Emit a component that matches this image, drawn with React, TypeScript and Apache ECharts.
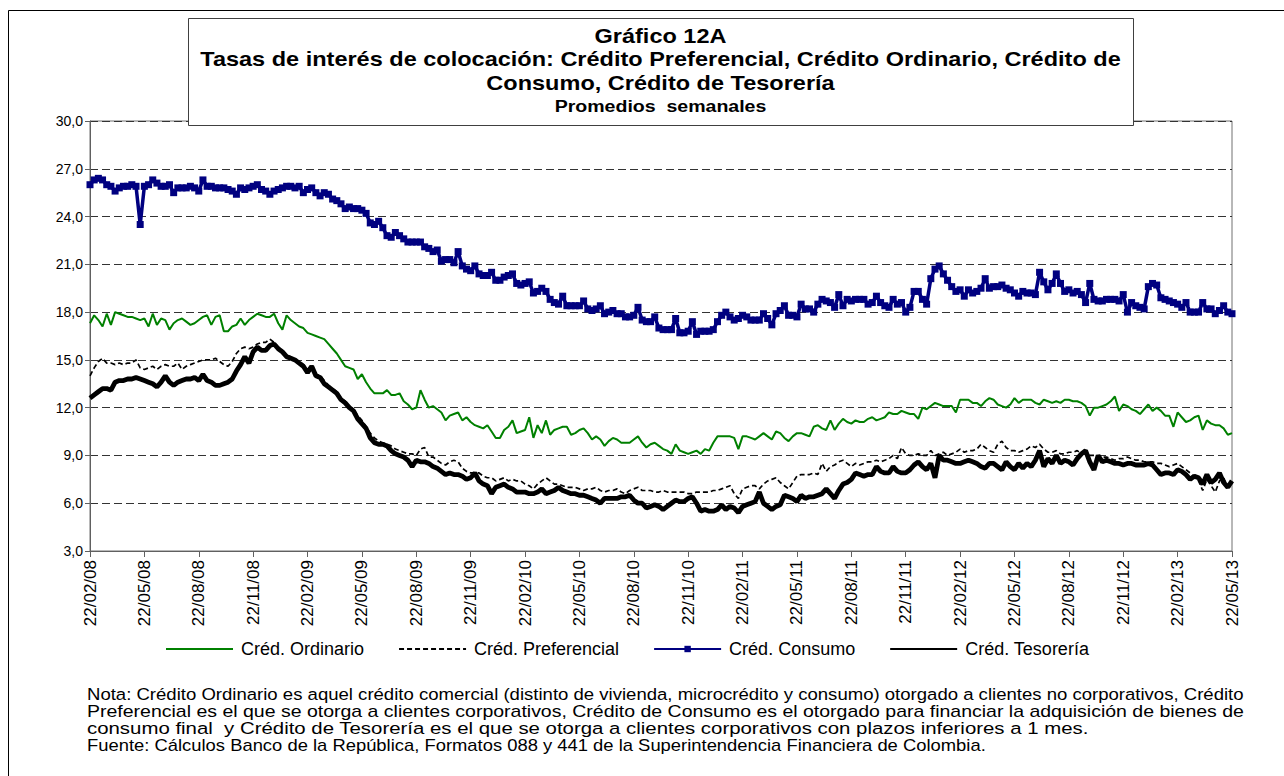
import React, { useEffect, useRef } from "react";
import * as echarts from "echarts";

const FONT = "'Liberation Sans', Arial, Helvetica, sans-serif";

// Tick labels every 13 weeks (quarterly)
const tickLabels = [
  "22/02/08", "22/05/08", "22/08/08", "22/11/08", "22/02/09", "22/05/09",
  "22/08/09", "22/11/09", "22/02/10", "22/05/10", "22/08/10", "22/11/10",
  "22/02/11", "22/05/11", "22/08/11", "22/11/11", "22/02/12", "22/05/12",
  "22/08/12", "22/11/12", "22/02/13", "22/05/13",
];
const WEEKS_PER_TICK = 13;

const seriesNames = ["Créd. Ordinario", "Créd. Preferencial", "Créd. Consumo", "Créd. Tesorería"];

const ordinario = [
  17.3, 17.8, 17.5, 17.1, 17.9, 17.2, 18.0, 17.9, 17.8, 17.7,
  17.7, 17.6, 17.5, 17.6, 17.1, 17.9, 17.2, 17.6, 17.5, 16.9,
  17.3, 17.5, 17.6, 17.4, 17.2, 17.3, 17.5, 17.7, 17.8, 17.2,
  17.7, 17.8, 16.8, 16.8, 17.1, 17.2, 17.6, 17.2, 17.5, 17.7,
  17.9, 17.8, 17.7, 17.7, 17.9, 17.3, 16.9, 17.8, 17.5, 17.3,
  17.1, 17.0, 16.7, 16.6, 16.5, 16.4, 16.3, 16.0, 15.7, 15.4,
  15.0, 14.6, 14.5, 14.4, 13.8, 14.1, 13.6, 13.2, 12.9, 12.9,
  12.9, 13.1, 12.8, 12.8, 12.9, 12.4, 12.2, 11.9, 12.0, 13.1,
  12.5, 12.0, 12.1, 11.9, 11.7, 11.2, 11.5, 11.6, 11.7, 11.2,
  11.4, 11.1, 10.9, 10.8, 10.7, 10.9, 10.5, 10.1, 10.1, 10.6,
  10.8, 11.2, 10.4, 10.5, 10.6, 11.4, 10.1, 10.9, 10.4, 11.2,
  10.3, 10.6, 10.7, 10.8, 10.8, 10.3, 10.4, 10.6, 10.7, 10.4,
  10.0, 10.2, 10.0, 9.6, 9.9, 10.1, 10.0, 9.8, 9.8, 9.8,
  10.0, 10.2, 9.8, 9.5, 9.7, 9.8, 9.6, 9.4, 9.3, 9.1,
  9.7, 9.3, 9.2, 9.1, 9.2, 9.3, 9.1, 9.4, 9.3, 9.8,
  10.2, 10.2, 10.2, 10.2, 10.1, 9.4, 10.2, 10.2, 10.1, 10.0,
  10.2, 10.4, 10.2, 10.0, 10.5, 10.4, 10.1, 9.9, 10.2, 10.4,
  10.4, 10.3, 10.2, 10.8, 10.9, 10.7, 10.6, 11.2, 10.6, 11.0,
  11.3, 11.1, 11.0, 11.2, 11.1, 11.1, 11.3, 11.4, 11.2, 11.3,
  11.4, 11.7, 11.6, 11.6, 11.8, 11.7, 11.6, 11.6, 11.3, 12.0,
  11.9, 12.1, 12.3, 12.2, 12.1, 12.1, 12.1, 11.7, 12.5, 12.5,
  12.5, 12.3, 12.3, 12.1, 12.4, 12.6, 12.5, 12.2, 12.1, 12.0,
  12.2, 12.6, 12.3, 12.5, 12.5, 12.5, 12.3, 12.2, 12.5, 12.4,
  12.3, 12.4, 12.3, 12.5, 12.5, 12.4, 12.4, 12.3, 12.1, 11.5,
  12.0, 12.0, 12.1, 12.2, 12.4, 12.7, 11.8, 12.2, 12.1, 11.9,
  11.8, 11.6, 11.9, 12.2, 11.8, 12.0, 11.8, 11.5, 11.5, 10.8,
  11.7, 11.4, 11.1, 11.2, 11.4, 11.5, 10.6, 11.2, 11.0, 10.9,
  10.9, 10.7, 10.3, 10.4,
];

const preferencial = [
  14.0, 14.5, 14.9, 15.1, 14.8, 14.8, 14.7, 14.8, 14.7, 14.8,
  14.8, 15.0, 14.5, 14.4, 14.5, 14.6, 14.4, 14.6, 14.7, 14.6,
  14.6, 14.8, 14.4, 14.6, 14.7, 14.8, 14.9, 15.0, 15.0, 15.0,
  15.1, 14.9, 14.7, 14.6, 14.9, 15.4, 15.7, 15.8, 15.7, 15.8,
  16.0, 16.1, 16.1, 16.3, 16.1, 15.8, 15.6, 15.3, 15.2, 15.0,
  14.9, 14.7, 14.4, 14.7, 14.1, 14.0, 13.7, 13.4, 13.2, 13.0,
  12.6, 12.4, 12.1, 11.9, 11.5, 11.2, 10.8, 10.4, 10.1, 9.9,
  9.8, 9.7, 9.6, 9.4, 9.3, 9.2, 9.1, 9.1, 9.0, 9.4,
  9.5, 8.9, 8.9, 8.7, 8.5, 8.4, 8.6, 8.7, 8.6, 8.2,
  8.0, 7.9, 7.9, 7.9, 7.7, 7.6, 7.6, 7.4, 7.5, 7.6,
  7.4, 7.5, 7.4, 7.4, 7.2, 7.1, 6.9, 7.2, 7.4, 7.6,
  7.4, 7.2, 7.2, 7.1, 7.0, 7.0, 7.0, 6.9, 6.8, 6.9,
  6.9, 7.0, 6.8, 6.7, 6.8, 6.8, 6.9, 6.7, 6.6, 6.8,
  6.9, 7.0, 6.8, 6.8, 6.8, 6.7, 6.7, 6.8, 6.7, 6.7,
  6.7, 6.7, 6.7, 6.6, 6.6, 6.7, 6.7, 6.7, 6.7, 6.8,
  6.8, 6.9, 7.0, 7.1, 6.6, 6.3, 6.9, 7.0, 7.1, 7.1,
  6.9, 7.2, 7.4, 7.5, 7.6, 7.3, 7.1, 6.9, 7.3, 7.7,
  7.8, 7.8, 7.8, 7.9, 7.8, 8.5, 8.0, 8.3, 8.4, 8.6,
  8.7, 8.5, 8.3, 8.5, 8.4, 8.5, 8.6, 8.6, 8.7, 8.6,
  8.7, 8.8, 9.0, 8.8, 9.5, 9.1, 9.0, 9.0, 9.1, 9.0,
  9.0, 9.3, 9.0, 9.1, 9.2, 9.0, 9.1, 9.2, 9.4, 9.2,
  9.3, 9.3, 9.4, 9.7, 9.5, 9.3, 9.2, 9.7, 9.9, 9.5,
  9.3, 9.3, 9.2, 9.3, 9.4, 9.6, 9.5, 9.7, 9.4, 9.2,
  9.2, 9.3, 9.1, 9.1, 9.2, 9.2, 9.3, 9.1, 9.1, 9.0,
  9.0, 8.8, 8.9, 8.9, 8.8, 8.7, 8.8, 8.8, 8.9, 8.8,
  8.7, 8.7, 8.6, 8.6, 8.6, 8.5, 8.5, 8.4, 8.3, 8.4,
  8.5, 8.3, 8.1, 7.9, 7.6, 7.4, 6.8, 7.5, 7.1, 6.7,
  7.4, 7.6, 7.0, 7.1,
];

const consumo = [
  26.0, 26.3, 26.4, 26.3, 26.0, 25.9, 25.6, 25.8, 25.9, 25.9,
  26.0, 25.9, 23.5, 25.9, 26.0, 26.3, 26.1, 25.9, 25.9, 26.0,
  25.5, 25.8, 25.8, 25.8, 25.9, 25.8, 25.6, 26.3, 25.9, 25.9,
  25.8, 25.8, 25.8, 25.7, 25.6, 25.4, 25.8, 25.7, 25.8, 25.9,
  26.0, 25.7, 25.6, 25.4, 25.6, 25.7, 25.8, 25.9, 25.9, 25.8,
  25.9, 25.5, 25.7, 25.8, 25.5, 25.3, 25.5, 25.4, 25.1, 25.0,
  24.8, 24.5, 24.6, 24.5, 24.5, 24.4, 24.2, 23.6, 23.5, 23.7,
  23.3, 22.8, 22.7, 23.0, 22.8, 22.6, 22.4, 22.4, 22.4, 22.4,
  22.1, 22.0, 21.8, 21.9, 21.2, 21.3, 21.3, 21.1, 21.8, 20.9,
  20.7, 20.6, 20.9, 20.4, 20.3, 20.3, 20.5, 20.0, 20.0, 20.2,
  20.3, 20.4, 19.8, 19.7, 19.8, 19.9, 19.2, 19.3, 19.5, 19.3,
  18.8, 18.6, 18.5, 19.0, 18.4, 18.4, 18.4, 18.4, 18.7, 18.2,
  18.1, 18.2, 18.4, 17.9, 18.0, 18.1, 17.9, 17.9, 17.7, 17.7,
  17.8, 18.3, 17.5, 17.4, 17.4, 17.7, 17.0, 16.9, 16.9, 16.9,
  17.6, 16.7, 16.7, 16.8, 17.4, 16.6, 16.8, 16.8, 16.8, 16.9,
  17.4, 17.8, 18.0, 17.7, 17.5, 17.6, 17.8, 17.7, 17.5, 17.5,
  17.5, 17.9, 17.6, 17.2, 17.9, 18.1, 18.4, 17.8, 17.8, 17.7,
  18.5, 18.2, 18.2, 18.0, 18.5, 18.8, 18.7, 18.6, 18.3, 19.1,
  18.4, 18.8, 18.7, 18.8, 18.8, 18.8, 18.5, 18.6, 19.0, 18.6,
  18.4, 18.3, 18.8, 18.5, 18.6, 18.0, 18.3, 19.3, 19.3, 18.8,
  18.5, 20.1, 20.7, 20.9, 20.4, 20.0, 19.6, 19.3, 19.4, 19.0,
  19.4, 19.2, 19.3, 19.5, 20.1, 19.5, 19.6, 19.6, 19.7, 19.5,
  19.4, 19.2, 19.0, 19.3, 19.2, 19.2, 19.1, 20.5, 19.9, 19.4,
  19.8, 20.4, 19.8, 19.3, 19.4, 19.2, 19.3, 19.1, 18.6, 19.8,
  18.8, 18.7, 18.7, 18.8, 18.8, 18.8, 18.7, 19.1, 18.0, 18.6,
  18.4, 18.3, 18.2, 19.6, 19.8, 19.7, 18.9, 18.8, 18.7, 18.6,
  18.5, 18.3, 18.6, 18.0, 18.0, 18.0, 18.6, 18.2, 18.2, 17.9,
  18.1, 18.4, 18.0, 17.9,
];

const tesoreria = [
  12.6, 12.8, 13.0, 13.2, 13.2, 13.1, 13.6, 13.7, 13.7, 13.8,
  13.8, 13.9, 13.8, 13.7, 13.6, 13.5, 13.3, 13.6, 14.0, 13.6,
  13.4, 13.6, 13.7, 13.8, 13.8, 13.9, 13.7, 14.1, 13.7, 13.6,
  13.4, 13.4, 13.5, 13.6, 13.8, 14.3, 14.7, 15.2, 14.8, 15.5,
  15.8, 15.6, 15.6, 15.9, 16.0, 15.7, 15.5, 15.2, 15.1, 15.0,
  14.8, 14.6, 14.2, 14.6, 14.0, 13.9, 13.5, 13.3, 13.1, 12.9,
  12.5, 12.3, 12.0, 11.8, 11.3, 11.0, 10.7, 10.1, 9.8, 9.7,
  9.7, 9.6, 9.3, 9.1, 9.0, 8.9, 8.7, 8.3, 8.7, 8.6,
  8.6, 8.5, 8.3, 8.2, 8.0, 7.8, 7.9, 7.8, 7.8, 7.7,
  7.5, 7.6, 7.9, 7.4, 7.2, 7.1, 6.6, 7.0, 7.1, 7.2,
  7.0, 6.9, 6.7, 6.7, 6.7, 6.6, 6.6, 6.7, 6.9, 6.6,
  6.7, 6.8, 7.0, 6.8, 6.7, 6.6, 6.6, 6.5, 6.5, 6.4,
  6.3, 6.2, 6.0, 6.3, 6.3, 6.3, 6.3, 6.4, 6.4, 6.5,
  6.2, 6.0, 6.0, 5.7, 5.8, 5.9, 5.8, 5.6, 5.8, 6.0,
  6.2, 6.1, 6.1, 6.3, 6.4, 6.0, 5.5, 5.6, 5.5, 5.5,
  5.6, 5.9, 5.6, 5.8, 5.7, 5.4, 5.8, 5.9, 6.0, 6.1,
  6.7, 6.0, 5.8, 5.6, 5.8, 5.9, 6.5, 6.4, 6.3, 6.1,
  6.5, 6.3, 6.4, 6.4, 6.5, 6.6, 6.9, 6.6, 6.3, 6.8,
  7.2, 7.3, 7.5, 7.9, 7.8, 7.7, 7.8, 7.8, 8.3, 8.0,
  7.9, 7.9, 8.3, 8.0, 7.9, 7.9, 8.1, 8.4, 8.6, 8.3,
  8.1, 8.5, 7.6, 9.0, 8.7, 8.7, 8.6, 8.5, 8.5, 8.6,
  8.7, 8.6, 8.5, 8.3, 8.2, 8.5, 8.5, 8.3, 8.1, 8.6,
  8.3, 8.1, 8.5, 8.2, 8.5, 8.3, 8.7, 9.3, 8.3, 8.8,
  8.5, 9.0, 8.5, 8.7, 8.6, 8.4, 8.8, 9.1, 9.3, 8.6,
  8.1, 9.0, 8.6, 8.7, 8.6, 8.5, 8.5, 8.4, 8.5, 8.5,
  8.4, 8.4, 8.4, 8.5, 8.4, 8.1, 7.8, 7.9, 7.9, 7.8,
  8.1, 8.0, 7.8, 7.5, 7.7, 7.6, 7.2, 7.8, 7.3, 7.5,
  7.9, 7.3, 7.0, 7.4,
];

const titleLines = [
  "Gráfico 12A",
  "Tasas de interés de colocación: Crédito Preferencial, Crédito Ordinario, Crédito de",
  "Consumo, Crédito de Tesorería",
];
const subtitle = "Promedios  semanales";

const noteLines = [
  "Nota: Crédito Ordinario es aquel crédito comercial (distinto de vivienda, microcrédito y consumo) otorgado a clientes no corporativos, Crédito",
  "Preferencial es el que se otorga a clientes corporativos, Crédito de Consumo es el otorgado para financiar la adquisición de bienes de",
  "consumo final  y Crédito de Tesorería es el que se otorga a clientes corporativos con plazos inferiores a 1 mes.",
  "Fuente: Cálculos Banco de la República, Formatos 088 y 441 de la Superintendencia Financiera de Colombia.",
];

export default function App() {
  const ref = useRef<HTMLDivElement>(null);

  useEffect(() => {
    if (!ref.current) return;
    const chart = echarts.init(ref.current, undefined, { renderer: "svg" });
    const weeks = consumo.map((_, i) => String(i));

    const titleY = [36, 59, 83];
    const titleGraphics: any[] = titleLines.map((t, i) => ({
      type: "text",
      z: 101,
      x: 660.5,
      y: titleY[i],
      scaleX: 1.12,
      style: {
        text: t,
        x: 0,
        y: 0,
        textAlign: "center",
        textVerticalAlign: "middle",
        fontFamily: FONT,
        fontSize: 21,
        fontWeight: "bold",
        fill: "#000",
      },
    }));
    titleGraphics.push({
      type: "text",
      z: 101,
      x: 660.5,
      y: 106,
      scaleX: 1.15,
      style: {
        text: subtitle,
        x: 0,
        y: 0,
        textAlign: "center",
        textVerticalAlign: "middle",
        fontFamily: FONT,
        fontSize: 17,
        fontWeight: "bold",
        fill: "#000",
      },
    });

    const noteScale = [1.092, 1.147, 1.2, 1.083];
    const noteGraphics = noteLines.map((t, i) => ({
      type: "text",
      z: 101,
      x: 87,
      y: 694 + i * 17,
      scaleX: noteScale[i],
      style: {
        text: t,
        x: 0,
        y: 0,
        textAlign: "left",
        textVerticalAlign: "middle",
        fontFamily: FONT,
        fontSize: 17,
        fill: "#000",
      },
    }));

    const hiddenMarker = { color: "rgba(0,0,0,0)", borderColor: "rgba(0,0,0,0)", borderWidth: 0 };

    chart.setOption({
      animation: false,
      backgroundColor: "#fff",
      textStyle: { fontFamily: FONT },
      grid: {
        left: 90,
        right: 52,
        top: 121,
        bottom: 225,
        show: true,
        borderColor: "#707070",
        borderWidth: 1,
        backgroundColor: "transparent",
      },
      legend: {
        left: 165,
        top: 640,
        padding: 0,
        itemWidth: 67,
        itemHeight: 8,
        itemGap: 34,
        textStyle: { fontSize: 18, color: "#000", fontFamily: FONT, padding: [0, 0, 0, 3] },
        data: [
          { name: seriesNames[0], itemStyle: hiddenMarker },
          { name: seriesNames[1], itemStyle: hiddenMarker },
          { name: seriesNames[2] },
          { name: seriesNames[3], itemStyle: hiddenMarker },
        ],
      },
      xAxis: {
        type: "category",
        data: weeks,
        boundaryGap: false,
        axisLine: { lineStyle: { color: "#606060", width: 1 } },
        axisTick: { interval: WEEKS_PER_TICK - 1, length: 6, lineStyle: { color: "#606060" } },
        axisLabel: {
          interval: WEEKS_PER_TICK - 1,
          rotate: 90,
          margin: 9,
          fontSize: 17,
          color: "#000",
          fontFamily: FONT,
          formatter: (_v: string, idx: number) =>
            idx % WEEKS_PER_TICK === 0 ? tickLabels[idx / WEEKS_PER_TICK] ?? "" : "",
        },
        splitLine: { show: false },
      },
      yAxis: {
        type: "value",
        min: 3,
        max: 30,
        interval: 3,
        axisLine: { show: true, lineStyle: { color: "#606060", width: 1 } },
        axisTick: { show: true, length: 5, lineStyle: { color: "#606060" } },
        axisLabel: {
          margin: 7,
          fontSize: 14,
          color: "#000",
          fontFamily: FONT,
          formatter: (v: number) => v.toFixed(1).replace(".", ","),
        },
        splitLine: { show: true, lineStyle: { color: "#333", type: [8, 4], width: 1 } },
      },
      series: [
        {
          name: seriesNames[0],
          type: "line",
          data: ordinario,
          symbol: "none",
          lineStyle: { color: "#008000", width: 2 },
          itemStyle: { color: "#008000" },
          z: 3,
        },
        {
          name: seriesNames[1],
          type: "line",
          data: preferencial,
          symbol: "none",
          lineStyle: { color: "#000", width: 1.7, type: [5, 3] },
          itemStyle: { color: "#000" },
          z: 4,
        },
        {
          name: seriesNames[2],
          type: "line",
          data: consumo,
          symbol: "rect",
          symbolSize: 7,
          showSymbol: true,
          showAllSymbol: true,
          lineStyle: { color: "#000080", width: 3.5 },
          itemStyle: { color: "#000080", borderWidth: 0 },
          z: 5,
        },
        {
          name: seriesNames[3],
          type: "line",
          data: tesoreria,
          symbol: "none",
          lineStyle: { color: "#000", width: 4.8 },
          itemStyle: { color: "#000" },
          z: 6,
        },
      ],
      graphic: {
        elements: [
          {
            type: "rect",
            z: 0,
            shape: { x: 8.5, y: 10.5, width: 1300, height: 800 },
            style: { fill: "none", stroke: "#000", lineWidth: 1 },
            silent: true,
          },
          {
            type: "rect",
            z: 100,
            shape: { x: 188.5, y: 18.5, width: 945, height: 107 },
            style: { fill: "#fff", stroke: "#404040", lineWidth: 1 },
            silent: true,
          },
          ...titleGraphics,
          ...noteGraphics,
        ],
      },
    });

    return () => chart.dispose();
  }, []);

  return (
    <div
      ref={ref}
      style={{ position: "absolute", left: 0, top: 0, width: 1284, height: 776, background: "#fff" }}
    />
  );
}
